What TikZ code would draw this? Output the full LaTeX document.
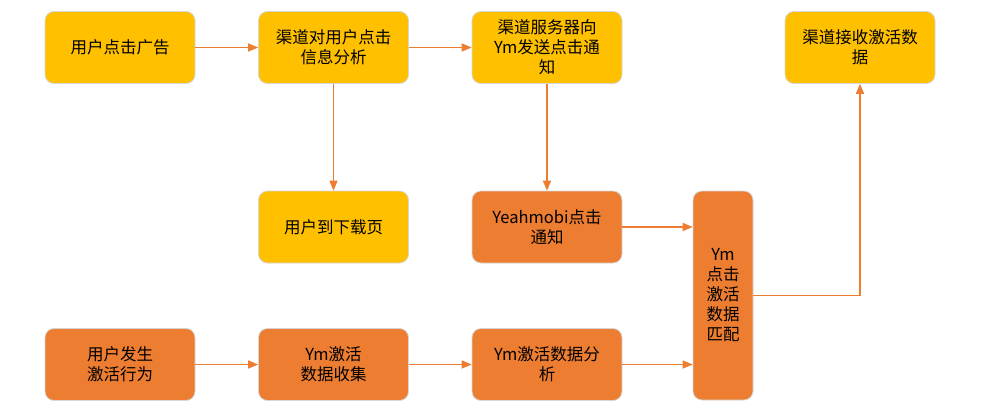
\documentclass[tikz,border=0pt]{standalone}
\usepackage{fontspec}
\setmainfont{Noto Sans CJK SC}
\usetikzlibrary{shapes, arrows, positioning}

\definecolor{ymyellow}{HTML}{FFC000}
\definecolor{ymorange}{HTML}{ED7D31}
\definecolor{ymedge}{HTML}{D6D6D6}

\tikzset{
  stepbox/.style={rectangle, rounded corners=9pt, draw=ymedge, line width=0.8pt,
    minimum width=150pt, minimum height=72pt, align=center, inner sep=2pt,
    font=\fontsize{16.5}{20}\selectfont},
  yellowbox/.style={stepbox, fill=ymyellow},
  orangebox/.style={stepbox, fill=ymorange},
  flow/.style={->, draw=ymorange, line width=1.3pt}
}

\begin{document}
\begin{tikzpicture}[x=1pt, y=-1pt, >=triangle 45, node distance=213.5pt]

\useasboundingbox (0,0) rectangle (987,418);

\node [yellowbox] (click) at (120,47.5) {用户点击广告};
\node [yellowbox] (analyse) [right of=click] {渠道对用户点击\\信息分析};
\node [yellowbox] (notify) [right of=analyse] {渠道服务器向\\Ym发送点击通\\知};
\node [yellowbox] (receive) [right of=notify, node distance=313pt] {渠道接收激活数\\据};
\node [yellowbox] (download) [below of=analyse, node distance=179.5pt] {用户到下载页};
\node [orangebox] (yeahmobi) [below of=notify, node distance=179.5pt] {Yeahmobi点击\\通知};
\node [orangebox] (activate) at (120,364.5) {用户发生\\激活行为};
\node [orangebox] (collect) [right of=activate] {Ym激活\\数据收集};
\node [orangebox] (ymanalyse) [right of=collect] {Ym激活数据分\\析};
\node [orangebox, minimum width=60pt, minimum height=209pt] (match) at (723,295.5) {Ym\\点击\\激活\\数据\\匹配};

\draw [flow] (click) -- (analyse);
\draw [flow] (analyse) -- (notify);
\draw [flow] (analyse) -- (download);
\draw [flow] (notify) -- (yeahmobi);
\draw [flow] (yeahmobi.east) -- (yeahmobi.east -| match.west);
\draw [flow] (activate) -- (collect);
\draw [flow] (collect) -- (ymanalyse);
\draw [flow] (ymanalyse.east) -- (ymanalyse.east -| match.west);
\draw [flow] (match.east) -| (receive.south);

\end{tikzpicture}
\end{document}
